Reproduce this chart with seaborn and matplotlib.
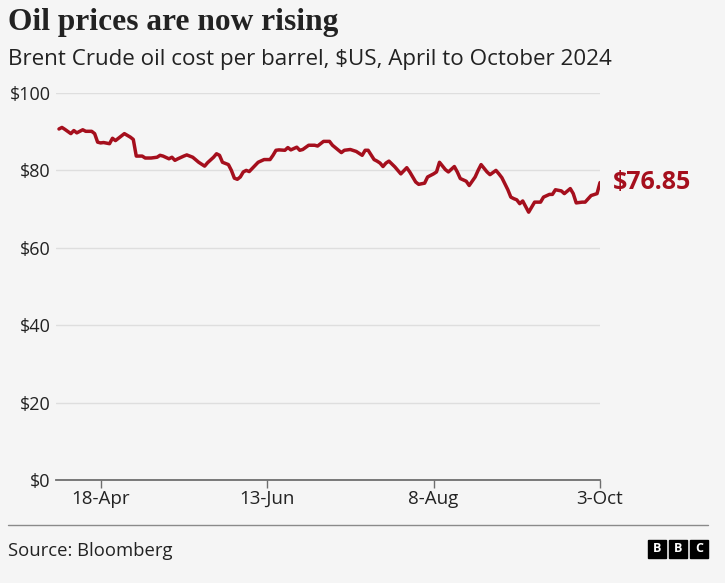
import matplotlib
matplotlib.use("Agg")

import matplotlib.pyplot as plt
from matplotlib.patches import Rectangle
from matplotlib.lines import Line2D
import seaborn as sns
import pandas as pd

# ── Data ─────────────────────────────────────────────────────────────────────
DATES = [
    "2024-04-04", "2024-04-05", "2024-04-06", "2024-04-08", "2024-04-09", "2024-04-10",
    "2024-04-12", "2024-04-13", "2024-04-15", "2024-04-16", "2024-04-17", "2024-04-18",
    "2024-04-19", "2024-04-21", "2024-04-22", "2024-04-23", "2024-04-24", "2024-04-26",
    "2024-04-28", "2024-04-29", "2024-04-30",
    "2024-05-02", "2024-05-03", "2024-05-05", "2024-05-07", "2024-05-08", "2024-05-09",
    "2024-05-11", "2024-05-12", "2024-05-13", "2024-05-14", "2024-05-16", "2024-05-17",
    "2024-05-19", "2024-05-21", "2024-05-23", "2024-05-24", "2024-05-26", "2024-05-27",
    "2024-05-28", "2024-05-29", "2024-05-31",
    "2024-06-01", "2024-06-02", "2024-06-03", "2024-06-04", "2024-06-05", "2024-06-06",
    "2024-06-07", "2024-06-09", "2024-06-10", "2024-06-12", "2024-06-14", "2024-06-15",
    "2024-06-16", "2024-06-17", "2024-06-19", "2024-06-20", "2024-06-21", "2024-06-23",
    "2024-06-24", "2024-06-25", "2024-06-27", "2024-06-29", "2024-06-30",
    "2024-07-02", "2024-07-04", "2024-07-05", "2024-07-08", "2024-07-09", "2024-07-11",
    "2024-07-13", "2024-07-15", "2024-07-16", "2024-07-17", "2024-07-19", "2024-07-20",
    "2024-07-21", "2024-07-22", "2024-07-23", "2024-07-24", "2024-07-26", "2024-07-28",
    "2024-07-30", "2024-07-31",
    "2024-08-02", "2024-08-03", "2024-08-05", "2024-08-06", "2024-08-08", "2024-08-09",
    "2024-08-10", "2024-08-12", "2024-08-13", "2024-08-15", "2024-08-16", "2024-08-17",
    "2024-08-19", "2024-08-20", "2024-08-22", "2024-08-23", "2024-08-24", "2024-08-26",
    "2024-08-27", "2024-08-29", "2024-08-30", "2024-08-31",
    "2024-09-02", "2024-09-03", "2024-09-04", "2024-09-05", "2024-09-06", "2024-09-07",
    "2024-09-09", "2024-09-10", "2024-09-11", "2024-09-13", "2024-09-14", "2024-09-16",
    "2024-09-17", "2024-09-18", "2024-09-20", "2024-09-21", "2024-09-23", "2024-09-24",
    "2024-09-25", "2024-09-27", "2024-09-28", "2024-09-30",
    "2024-10-02", "2024-10-03",
]
PRICES = [
    90.7, 91.1, 90.6, 89.5, 90.3, 89.7,
    90.5, 90.1, 90.1, 89.5, 87.3, 87.1,
    87.2, 86.9, 88.3, 87.7, 88.3, 89.5,
    88.6, 88.0, 83.7,
    83.7, 83.2, 83.2, 83.4, 83.9, 83.7,
    83.0, 83.4, 82.6, 83.0, 83.7, 84.0,
    83.4, 82.1, 81.1, 82.0, 83.4, 84.3,
    83.9, 82.1, 81.5,
    80.0, 78.0, 77.7, 78.3, 79.6, 80.0,
    79.7, 81.3, 82.1, 82.8, 82.8, 83.9,
    85.2, 85.3, 85.2, 85.9, 85.3, 86.0,
    85.2, 85.4, 86.5, 86.5, 86.3,
    87.5, 87.5, 86.5, 84.6, 85.2, 85.4,
    84.9, 83.9, 85.2, 85.2, 82.8, 82.4,
    81.9, 81.0, 81.9, 82.4, 80.9, 79.1,
    80.7, 79.6,
    77.0, 76.4, 76.7, 78.3, 79.1, 79.6,
    82.1, 80.2, 79.6, 81.0, 79.6, 77.9,
    77.2, 76.1, 78.3, 80.0, 81.5, 79.6,
    78.9, 80.0, 79.1, 78.1,
    75.0, 73.1, 72.7, 72.4, 71.4, 72.1,
    69.2, 70.5, 71.8, 71.8, 73.1, 73.8,
    73.8, 75.0, 74.7, 74.0, 75.3, 74.0,
    71.6, 71.8, 71.8, 73.5,
    74.0, 76.85,
]

X_START, X_END = "2024-04-03", "2024-10-03"
TICK_DATES = ["2024-04-18", "2024-06-13", "2024-08-08", "2024-10-03"]
TICK_LABELS = ["18-Apr", "13-Jun", "8-Aug", "3-Oct"]
Y_TICKS = [0, 20, 40, 60, 80, 100]

TITLE = "Oil prices are now rising"
SUBTITLE = "Brent Crude oil cost per barrel, $US, April to October 2024"
SOURCE = "Source: Bloomberg"

# ── Style ─────────────────────────────────────────────────────────────────────
BG = "#f5f5f5"
RED = "#a50f1d"
TEXT = "#222222"
W, H = 725, 583

sns.set_theme(style="white")
plt.rcParams["font.family"] = ["Open Sans", "DejaVu Sans"]

df = pd.DataFrame({"date": pd.to_datetime(DATES), "price": PRICES})

fig = plt.figure(figsize=(W / 100, H / 100), dpi=100, facecolor=BG)
ax = fig.add_axes([56 / W, 1 - 480 / H, (600 - 56) / W, (480 - 93) / H])
ax.set_facecolor(BG)

sns.lineplot(data=df, x="date", y="price", color=RED, lw=2.5, ax=ax)

ax.set_xlim(pd.Timestamp(X_START), pd.Timestamp(X_END))
ax.set_ylim(0, 100)
ax.set_yticks(Y_TICKS)
ax.set_yticklabels([f"${v}" for v in Y_TICKS])
ax.set_xticks(pd.to_datetime(TICK_DATES))
ax.set_xticklabels(TICK_LABELS)
ax.grid(axis="y", color="#dedede", lw=1)
ax.set_axisbelow(True)
for s in ["top", "right", "left"]:
    ax.spines[s].set_visible(False)
ax.spines["bottom"].set_color("#6e6e6e")
ax.spines["bottom"].set_linewidth(1.3)
ax.tick_params(axis="x", length=6, width=1, color="#6e6e6e", labelsize=13.5,
               labelcolor=TEXT, pad=1, direction="out", bottom=True)
ax.tick_params(axis="y", length=0, labelsize=13, labelcolor=TEXT, pad=4)
ax.set_xlabel("")
ax.set_ylabel("")

# end-of-line value label
ax.annotate(f"${PRICES[-1]:.2f}", xy=(df["date"].iloc[-1], PRICES[-1]),
            xytext=(9, 0), textcoords="offset points", va="center", ha="left",
            color=RED, fontsize=18, fontweight="bold", annotation_clip=False)

# titles
fig.text(8 / W, 1 - 30 / H, TITLE, ha="left", va="baseline", fontsize=22.6,
         fontweight="bold", color=TEXT, family=["Liberation Serif", "DejaVu Serif"])
fig.text(8 / W, 1 - 65 / H, SUBTITLE, ha="left", va="baseline", fontsize=16.1,
         color=TEXT)

# footer
fig.add_artist(Line2D([8 / W, 708 / W], [1 - 525 / H, 1 - 525 / H],
                      color="#8a8a8a", lw=1, transform=fig.transFigure))
fig.text(8 / W, 1 - 556 / H, SOURCE, ha="left", va="baseline", fontsize=13.3,
         color=TEXT)
for i, letter in enumerate("BBC"):
    x0 = (648 + i * 21) / W
    fig.add_artist(Rectangle((x0, 1 - 558 / H), 18 / W, 18 / H, color="black",
                             transform=fig.transFigure))
    fig.text(x0 + 9 / W, 1 - 549 / H, letter, ha="center", va="center",
             color="white", fontsize=9, fontweight="bold")

fig.savefig("out.png", dpi=100, facecolor=BG)
